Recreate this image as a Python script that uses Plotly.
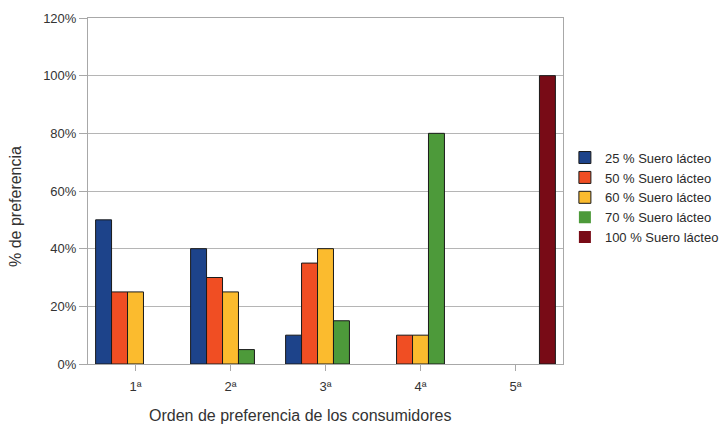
import plotly.graph_objects as go

# Order of preference positions (x categories)
categories = ["1ª", "2ª", "3ª", "4ª", "5ª"]

# Share of consumers choosing each formulation at each preference position
series_names = [
    "25 % Suero lácteo",
    "50 % Suero lácteo",
    "60 % Suero lácteo",
    "70 % Suero lácteo",
    "100 % Suero lácteo",
]
suero_25 = [0.50, 0.40, 0.10, 0.00, 0.00]
suero_50 = [0.25, 0.30, 0.35, 0.10, 0.00]
suero_60 = [0.25, 0.25, 0.40, 0.10, 0.00]
suero_70 = [0.00, 0.05, 0.15, 0.80, 0.00]
suero_100 = [0.00, 0.00, 0.00, 0.00, 1.00]

series_values = [suero_25, suero_50, suero_60, suero_70, suero_100]
colors = ["#1d438a", "#f04e23", "#fbbb2e", "#4d9a3a", "#780b16"]

x_title = "Orden de preferencia de los consumidores"
y_title = "% de preferencia"

font_family = "Liberation Sans, Arial, sans-serif"

fig = go.Figure()
for name, vals, col in zip(series_names, series_values, colors):
    # no outline on empty bars so they leave no flat stroke on the baseline
    widths = [1 if v > 0 else 0 for v in vals]
    fig.add_trace(go.Bar(
        x=categories, y=vals, name=name,
        marker=dict(color=col, line=dict(color="#1a1a1a", width=widths)),
    ))

fig.update_layout(
    width=725, height=424,
    margin=dict(l=88, r=162, t=18, b=60, autoexpand=False),
    paper_bgcolor="white", plot_bgcolor="white",
    barmode="group", bargap=0.16, bargroupgap=0,
    font=dict(family=font_family, size=13, color="#333333"),
    showlegend=True,
    legend=dict(
        x=1.004, y=0.481, xanchor="left", yanchor="middle",
        font=dict(size=13, color="#2a2a2a"),
        bgcolor="rgba(0,0,0,0)", tracegroupgap=0,
        itemwidth=30,
    ),
    xaxis=dict(
        range=[-0.5, 4.5],
        showline=True, linecolor="#a8a8a8", linewidth=1, mirror=True,
        ticks="outside", ticklen=6, tickcolor="#a8a8a8",
        ticklabelstandoff=4,
        tickfont=dict(size=13, color="#333333"),
        showgrid=False,
    ),
    yaxis=dict(
        range=[0, 1.2], dtick=0.2, tickformat=".0%",
        showline=True, linecolor="#a8a8a8", linewidth=1, mirror=True,
        ticks="outside", ticklen=8, tickcolor="#a8a8a8",
        tickfont=dict(size=13, color="#333333"),
        showgrid=True, gridcolor="#b5b5b5", gridwidth=1,
        zeroline=False,
    ),
    annotations=[
        dict(text=x_title, xref="paper", yref="paper",
             x=(300 - 88) / 475, y=-(415 - 364) / 346,
             xanchor="center", yanchor="middle", showarrow=False,
             font=dict(size=16, color="#333333")),
        dict(text=y_title, xref="paper", yref="paper",
             x=-(88 - 15) / 475, y=(364 - 207) / 346, textangle=-90,
             xanchor="center", yanchor="middle", showarrow=False,
             font=dict(size=16, color="#333333")),
    ],
)

fig.write_html("out.html")
